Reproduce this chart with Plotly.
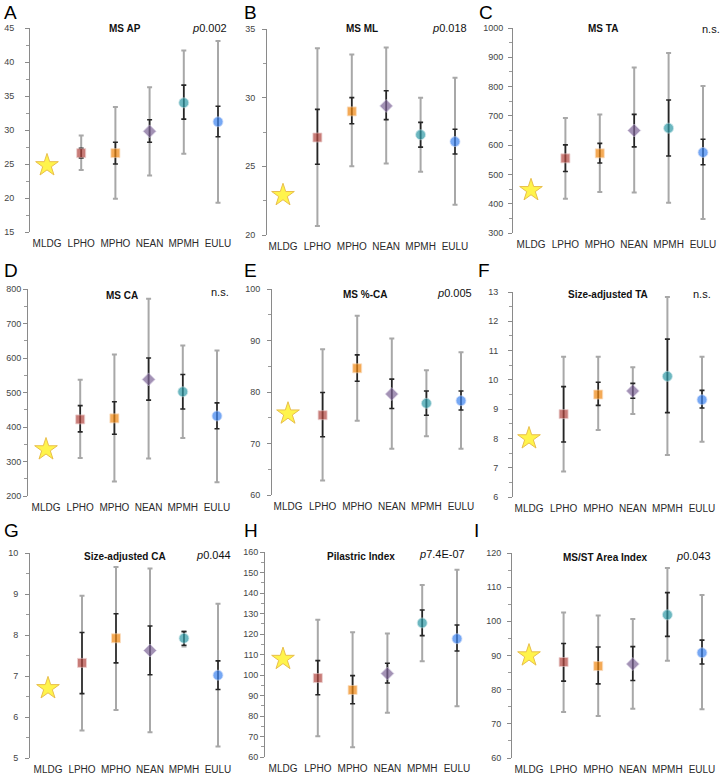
import plotly.graph_objects as go

categories = ["MLDG", "LPHO", "MPHO", "NEAN", "MPMH", "EULU"]

# ---- data (mean; inner bar low/high; outer range low/high for LPHO..EULU) ----
ap_mean = [24.8, 26.6, 26.6, 29.8, 34.0, 31.2]
ap_in_lo = [25.9, 25.0, 28.2, 31.6, 29.0]
ap_in_hi = [27.3, 28.2, 31.5, 36.6, 33.5]
ap_out_lo = [24.1, 19.9, 23.3, 26.5, 19.3]
ap_out_hi = [29.2, 33.4, 36.3, 41.7, 43.1]

ml_mean = [22.9, 27.1, 29.0, 29.4, 27.3, 26.8]
ml_in_lo = [25.15, 28.1, 28.4, 26.4, 25.9]
ml_in_hi = [29.15, 30.0, 30.5, 28.2, 27.7]
ml_out_lo = [20.65, 25.0, 25.2, 24.6, 22.2]
ml_out_hi = [33.6, 33.15, 33.65, 30.0, 31.45]

ta_mean = [446, 555, 572, 650, 658, 575]
ta_in_lo = [510, 539, 594, 563, 533]
ta_in_hi = [601, 606, 705, 754, 620]
ta_out_lo = [417, 440, 438, 403, 348]
ta_out_hi = [693, 705, 865, 915, 802]

ca_mean = [335, 422, 425, 538, 502, 432]
ca_in_lo = [386, 379, 478, 452, 395]
ca_in_hi = [462, 473, 600, 552, 470]
ca_out_lo = [310, 242, 309, 368, 240]
ca_out_hi = [537, 610, 772, 636, 622]

pca_mean = [75.8, 75.5, 84.6, 79.6, 77.8, 78.3]
pca_in_lo = [71.3, 82.1, 76.8, 75.5, 76.5]
pca_in_hi = [79.9, 87.2, 82.5, 80.2, 80.2]
pca_out_lo = [62.8, 74.4, 69.0, 71.4, 69.0]
pca_out_hi = [88.3, 94.8, 90.4, 84.2, 87.7]

sta_mean = [8.0, 8.83, 9.5, 9.62, 10.12, 9.32]
sta_in_lo = [7.88, 9.13, 9.37, 8.88, 9.04]
sta_in_hi = [9.77, 9.92, 9.88, 11.39, 9.64]
sta_out_lo = [6.87, 8.29, 8.83, 7.43, 7.89]
sta_out_hi = [10.79, 10.79, 10.43, 12.83, 10.79]

sca_mean = [6.7, 7.32, 7.92, 7.62, 7.92, 7.02]
sca_in_lo = [6.57, 7.32, 7.03, 7.75, 6.67]
sca_in_hi = [8.06, 8.52, 8.22, 8.08, 7.37]
sca_out_lo = [5.67, 6.17, 5.63, 7.72, 5.28]
sca_out_hi = [8.96, 9.66, 9.62, 8.10, 8.76]

pil_mean = [107.8, 98.5, 92.7, 100.7, 125.4, 117.7]
pil_in_lo = [90.4, 86.0, 96.1, 119.2, 111.7]
pil_in_hi = [107.0, 99.7, 105.7, 131.7, 124.4]
pil_out_lo = [70.1, 64.7, 81.6, 106.7, 84.7]
pil_out_hi = [127.0, 120.8, 120.3, 143.9, 151.4]

msst_mean = [90.0, 88.1, 86.9, 87.5, 101.9, 90.8]
msst_in_lo = [82.5, 81.7, 82.7, 95.6, 87.5]
msst_in_hi = [93.5, 92.5, 92.6, 108.4, 94.5]
msst_out_lo = [73.5, 72.3, 74.4, 88.5, 74.3]
msst_out_hi = [102.6, 101.7, 100.7, 115.6, 107.7]

titles = ["MS AP", "MS ML", "MS TA", "MS CA", "MS %-CA", "Size-adjusted TA",
          "Size-adjusted CA", "Pilastric Index", "MS/ST Area Index"]
pvals = ["0.002", "0.018", None, None, "0.005", None, "0.044", "7.4E-07", "0.043"]
letters = ["A", "B", "C", "D", "E", "F", "G", "H", "I"]

y_ranges = [(15, 45, 5), (20, 35, 5), (300, 1000, 100), (200, 800, 100), (60, 100, 10),
            (6, 13, 1), (5, 10, 1), (60, 160, 10), (60, 120, 10)]

panels = [
    (ap_mean, ap_in_lo, ap_in_hi, ap_out_lo, ap_out_hi),
    (ml_mean, ml_in_lo, ml_in_hi, ml_out_lo, ml_out_hi),
    (ta_mean, ta_in_lo, ta_in_hi, ta_out_lo, ta_out_hi),
    (ca_mean, ca_in_lo, ca_in_hi, ca_out_lo, ca_out_hi),
    (pca_mean, pca_in_lo, pca_in_hi, pca_out_lo, pca_out_hi),
    (sta_mean, sta_in_lo, sta_in_hi, sta_out_lo, sta_out_hi),
    (sca_mean, sca_in_lo, sca_in_hi, sca_out_lo, sca_out_hi),
    (pil_mean, pil_in_lo, pil_in_hi, pil_out_lo, pil_out_hi),
    (msst_mean, msst_in_lo, msst_in_hi, msst_out_lo, msst_out_hi),
]

# ---- layout geometry in pixels: axis x, first cat x, last cat x, top y, bottom y ----
W, H = 724, 778
geom = [
    (30, 47, 218, 28, 232), (267, 283, 455, 29, 235), (513, 531, 703, 28, 233),
    (28, 46, 217, 289, 496), (272, 288, 461, 289, 495), (513, 529, 702, 292, 497),
    (30, 48, 218, 553, 758), (265, 283, 457, 552, 757), (512, 529, 702, 553, 758),
]
label_standoff = [9, 5, 3, 0, 5, 8, 5, 0, 4]
title_pos = [(125, 28), (362, 28), (603, 29), (122, 295), (365, 294), (608, 294),
             (125, 556), (361, 556), (605, 557)]
pval_pos = [(229, 28), (469, 28), (722, 29), (231, 292), (474, 293), (713, 294),
            (233, 555), (467, 554), (713, 556)]
letter_pos = [(2, 12), (242, 12), (477, 12), (2, 271), (242, 271), (476, 271),
              (2, 530), (242, 530), (472, 530)]

marker_symbols = ["star", "square", "square", "diamond", "circle", "circle"]
marker_colors = ["#FFF000", "#B2463F", "#F0870F", "#7D6496", "#2F9AA6", "#3D84F0"]
marker_lines = ["#E0A400", "rgba(230,190,190,0.8)", "rgba(250,210,170,0.8)",
                "rgba(210,200,225,0.8)", "rgba(190,225,230,0.8)", "rgba(190,210,250,0.8)"]
marker_sizes = [17, 9, 9, 10, 10, 10]

FONT = "Liberation Sans, Arial, Helvetica, sans-serif"

fig = go.Figure()
layout = dict(width=W, height=H, margin=dict(l=0, r=0, t=0, b=0, autoexpand=False),
              autosize=False, paper_bgcolor="white", plot_bgcolor="white",
              showlegend=False, font=dict(family=FONT))
annotations = []

for i, (pdata, g) in enumerate(zip(panels, geom)):
    mean, in_lo, in_hi, out_lo, out_hi = pdata
    ax, x0, x5, yt, yb = g
    step = (x5 - x0) / 5.0
    xr0 = -(x0 - ax) / step
    right = x5 + step / 2
    xa = "xaxis" if i == 0 else f"xaxis{i+1}"
    ya = "yaxis" if i == 0 else f"yaxis{i+1}"
    xs = "x" if i == 0 else f"x{i+1}"
    ys = "y" if i == 0 else f"y{i+1}"
    ymin, ymax, dt = y_ranges[i]

    layout[xa] = dict(domain=[ax / W, right / W], range=[xr0, 5.5], anchor=ys,
                      automargin=False, ticklabelstandoff=4,
                      tickvals=list(range(6)), ticktext=categories, showline=False,
                      showgrid=False, zeroline=False, ticks="",
                      tickfont=dict(size=10, color="#2a2a2a", family=FONT))
    layout[ya] = dict(domain=[1 - yb / H, 1 - yt / H], range=[ymin, ymax], anchor=xs,
                      automargin=False,
                      dtick=dt, tick0=ymin, showline=True, linecolor="#8a8a8a", linewidth=1,
                      ticks="outside", ticklen=4, tickcolor="#8a8a8a", showgrid=False,
                      zeroline=False, ticklabelstandoff=label_standoff[i],
                      minor=dict(dtick=dt / 2, ticks="outside", ticklen=3, tickcolor="#9a9a9a"),
                      tickfont=dict(size=9, color="#444", family=FONT))

    xs_err = list(range(1, 6))
    m = mean[1:]
    # outer range (gray)
    fig.add_trace(go.Scatter(
        x=xs_err, y=m, mode="markers", xaxis=xs, yaxis=ys,
        marker=dict(size=1, color="rgba(0,0,0,0)"), hoverinfo="skip",
        error_y=dict(type="data", symmetric=False,
                     array=[h - v for h, v in zip(out_hi, m)],
                     arrayminus=[v - l for l, v in zip(out_lo, m)],
                     color="#a8a8a8", thickness=2, width=2.5)))
    # inner bar (dark)
    fig.add_trace(go.Scatter(
        x=xs_err, y=m, mode="markers", xaxis=xs, yaxis=ys,
        marker=dict(size=1, color="rgba(0,0,0,0)"), hoverinfo="skip",
        error_y=dict(type="data", symmetric=False,
                     array=[h - v for h, v in zip(in_hi, m)],
                     arrayminus=[v - l for l, v in zip(in_lo, m)],
                     color="#262626", thickness=1.6, width=2.5)))
    # markers
    fig.add_trace(go.Scatter(
        x=list(range(6)), y=mean, mode="markers", xaxis=xs, yaxis=ys,
        marker=dict(symbol=marker_symbols, color=marker_colors, size=marker_sizes,
                    line=dict(color=marker_lines, width=1))))

    tx, ty = title_pos[i]
    annotations.append(dict(x=tx / W, y=1 - ty / H, xref="paper", yref="paper",
                            text=f"<b>{titles[i]}</b>", showarrow=False,
                            xanchor="center", yanchor="middle",
                            font=dict(size=10, color="#111", family=FONT)))
    px, py = pval_pos[i]
    ptxt = "n.s." if pvals[i] is None else f"<i>p</i>{pvals[i]}"
    annotations.append(dict(x=px / W, y=1 - py / H, xref="paper", yref="paper",
                            text=ptxt, showarrow=False, xanchor="right", yanchor="middle",
                            font=dict(size=11, color="#111", family=FONT)))
    lx, ly = letter_pos[i]
    annotations.append(dict(x=lx / W, y=1 - ly / H, xref="paper", yref="paper",
                            text=letters[i], showarrow=False, xanchor="left", yanchor="middle",
                            font=dict(size=19, color="#000", family=FONT)))

layout["annotations"] = annotations
fig.update_layout(**layout)
fig.write_html("out.html", config={"displayModeBar": False},
               post_script="document.body.style.margin='0';document.body.style.overflow='hidden';")
